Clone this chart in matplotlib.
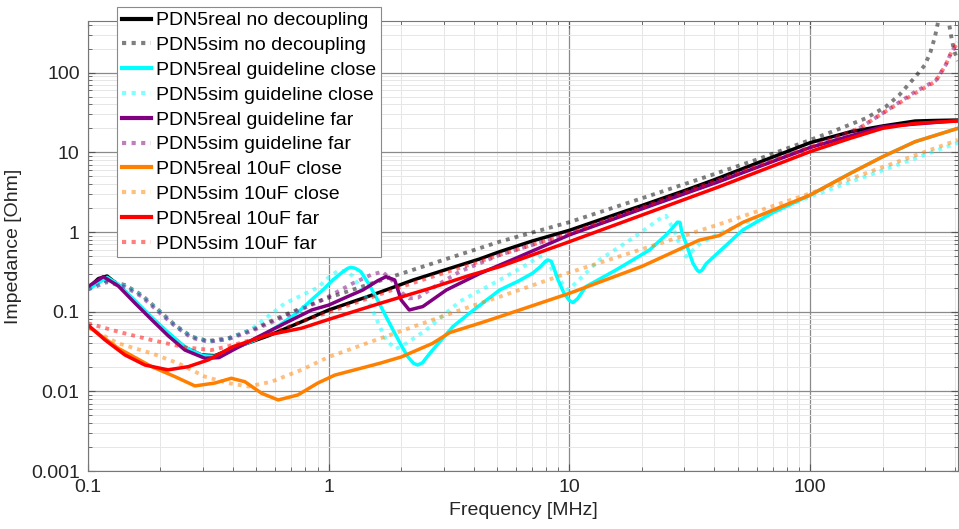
import numpy as np
import matplotlib.pyplot as plt
from matplotlib.ticker import FixedLocator, FixedFormatter, LogLocator, NullFormatter

# Frequency [MHz] / impedance [Ohm] read from the measured and simulated PDN5 sweeps

# real, no decoupling
f_real_nodec = [0.1, 0.1104, 0.12, 0.1336, 0.1567, 0.184, 0.215, 0.2526, 0.296, 0.336,
                0.4, 0.559, 0.75, 1.0, 1.5, 2.245, 3.0, 4.23, 5.13, 7.0, 10, 15, 20, 30,
                39.7, 60, 100, 147, 200, 273, 330, 411]
z_real_nodec = [0.197, 0.26, 0.28, 0.216, 0.134, 0.0826, 0.0536, 0.0357, 0.0286, 0.028,
                0.0347, 0.0496, 0.072, 0.105, 0.16, 0.25, 0.33, 0.458, 0.566, 0.77, 1.05,
                1.6, 2.15, 3.3, 4.49, 7.3, 13.2, 18.1, 21.4, 24.7, 25.1, 25.4]

# sim, no decoupling
f_sim_nodec = [0.1, 0.1104, 0.1214, 0.1424, 0.167, 0.196, 0.2297, 0.269, 0.316, 0.3817,
               0.477, 0.6568, 0.9, 1.0, 2.0, 5.13, 10, 20, 34.6, 60, 100, 123.2, 170.2,
               206.4, 234.6, 273, 300, 316, 330, 340, 357, 377, 386, 396, 411]
z_sim_nodec = [0.197, 0.238, 0.245, 0.216, 0.162, 0.105, 0.068, 0.0486, 0.0429, 0.0464,
               0.059, 0.091, 0.134, 0.15, 0.30, 0.756, 1.33, 2.65, 4.6, 8.1, 14.3, 18.1,
               26.7, 37.4, 52.4, 88, 125, 180, 280, 430, 1500, 430, 282, 192, 140]

# real, guideline close
f_real_gc = [0.1, 0.12, 0.1336, 0.1567, 0.184, 0.215, 0.2526, 0.3, 0.336, 0.4, 0.5, 0.626,
             0.75, 0.862, 0.95, 1.04, 1.15, 1.2, 1.24, 1.29, 1.36, 1.47, 1.57, 1.72, 1.85,
             2.0, 2.13, 2.25, 2.34, 2.45, 2.63, 3.28, 3.84, 5.13, 6.1, 7.02, 7.6, 7.9,
             8.14, 8.4, 8.6, 8.97, 9.5, 10.0, 10.35, 10.8, 11.7, 15.6, 21.5, 25.2, 27.0,
             28.1, 28.8, 29.3, 30.5, 32.6, 34.0, 34.6, 35.5, 37.0, 41.9, 52.5, 70, 100,
             147, 200, 273, 411]
z_real_gc = [0.19, 0.27, 0.22, 0.138, 0.085, 0.055, 0.036, 0.028, 0.0275, 0.034, 0.045,
             0.068, 0.1, 0.147, 0.19, 0.25, 0.32, 0.35, 0.36, 0.35, 0.318, 0.22, 0.154,
             0.09, 0.0589, 0.038, 0.0272, 0.0225, 0.0214, 0.0228, 0.030, 0.065, 0.0955,
             0.187, 0.24, 0.303, 0.37, 0.42, 0.445, 0.43, 0.36, 0.25, 0.17, 0.138, 0.13,
             0.145, 0.206, 0.333, 0.594, 0.917, 1.15, 1.33, 1.32, 1.0, 0.72, 0.405,
             0.33, 0.318, 0.33, 0.4, 0.566, 1.06, 1.75, 2.9, 5.45, 8.8, 13.6, 20]

# sim, guideline close
f_sim_gc = [0.1, 0.12, 0.1424, 0.167, 0.196, 0.2297, 0.269, 0.316, 0.38, 0.477, 0.657,
            0.9, 1.0, 1.1, 1.18, 1.26, 1.48, 1.63, 1.73, 1.9, 2.1, 2.54, 3.5, 5.13, 6.6,
            7.5, 7.78, 8.5, 9.56, 9.9, 11.3, 13.3, 18.3, 24.0, 25.2, 27.6, 29.4, 30.5,
            34.6, 41.9, 100, 200, 411]
z_sim_gc = [0.19, 0.24, 0.21, 0.16, 0.104, 0.067, 0.048, 0.042, 0.045, 0.06, 0.127, 0.2,
            0.27, 0.33, 0.32, 0.28, 0.127, 0.065, 0.044, 0.034, 0.04, 0.059, 0.134, 0.25,
            0.385, 0.49, 0.5, 0.333, 0.206, 0.187, 0.275, 0.445, 0.834, 1.5, 1.6, 0.96,
            0.566, 0.49, 0.7, 0.96, 2.77, 5.94, 13.2]

# real, guideline far
f_real_gf = [0.1, 0.1157, 0.1336, 0.1567, 0.184, 0.215, 0.2526, 0.306, 0.35, 0.4, 0.5,
             0.657, 0.85, 1.0, 1.2, 1.385, 1.6, 1.73, 1.88, 2.0, 2.16, 2.46, 3.08, 4.23,
             6.0, 10, 20, 41.9, 100, 200, 411]
z_real_gf = [0.206, 0.275, 0.21, 0.128, 0.079, 0.05, 0.033, 0.026, 0.0265, 0.033, 0.047,
             0.0715, 0.105, 0.121, 0.155, 0.187, 0.245, 0.275, 0.25, 0.14, 0.105, 0.116,
             0.187, 0.3, 0.47, 0.92, 1.95, 4.3, 11.5, 21, 25]

# sim, guideline far
f_sim_gf = [0.1, 0.12, 0.1424, 0.167, 0.196, 0.2297, 0.269, 0.316, 0.38, 0.477, 0.657,
            0.914, 1.26, 1.5, 1.67, 1.85, 2.0, 2.16, 2.35, 2.78, 3.5, 5.13, 10, 39.7, 100,
            160, 200, 273, 333, 366, 386, 411]
z_sim_gf = [0.19, 0.235, 0.205, 0.155, 0.1, 0.066, 0.047, 0.042, 0.045, 0.057, 0.087,
            0.134, 0.227, 0.29, 0.318, 0.24, 0.175, 0.147, 0.15, 0.21, 0.318, 0.515, 0.96,
            4.27, 11.6, 20, 30.9, 57.6, 80, 125, 180, 240]

# real, 10uF close
f_real_10c = [0.1, 0.1336, 0.184, 0.2297, 0.278, 0.336, 0.394, 0.4487, 0.526, 0.6168,
              0.744, 0.9, 1.06, 1.63, 2.0, 2.7, 3.18, 4.23, 5.13, 10, 20, 34.6, 41.9, 52.5,
              70, 100, 147, 200, 273, 411]
z_real_10c = [0.0655, 0.0347, 0.0204, 0.0153, 0.0117, 0.0127, 0.0146, 0.0132, 0.00946,
              0.0078, 0.009, 0.0127, 0.016, 0.0225, 0.027, 0.040, 0.0546, 0.0715, 0.0865,
              0.17, 0.37, 0.79, 0.9, 1.32, 1.88, 2.91, 5.45, 8.8, 13.6, 20]

# sim, 10uF close
f_sim_10c = [0.1, 0.1336, 0.184, 0.237, 0.306, 0.382, 0.4634, 0.578, 0.77, 1.0, 1.63,
             3.84, 5.13, 10, 41.9, 100, 170, 411]
z_sim_10c = [0.063, 0.040, 0.030, 0.0225, 0.0153, 0.0127, 0.0115, 0.0132, 0.0186, 0.027,
             0.046, 0.115, 0.154, 0.31, 1.25, 3.06, 5.45, 14.3]

# real, 10uF far
f_real_10f = [0.1, 0.1176, 0.1424, 0.1723, 0.215, 0.2606, 0.316, 0.4, 0.559, 0.77, 1.0,
              1.63, 2.63, 3.84, 5.13, 10, 20, 41.9, 100, 147, 200, 273, 411]
z_real_10f = [0.068, 0.0442, 0.0286, 0.0214, 0.0186, 0.0204, 0.0248, 0.0364, 0.051, 0.062,
              0.08, 0.127, 0.196, 0.285, 0.367, 0.756, 1.63, 3.7, 10.2, 15, 20, 23.1, 24.7]

# sim, 10uF far
f_sim_10f = [0.1, 0.1336, 0.184, 0.2526, 0.326, 0.4, 0.559, 0.77, 1.06, 2.0, 5.13, 10,
             39.7, 100, 160, 200, 273, 333, 366, 386, 411]
z_sim_10f = [0.0715, 0.056, 0.044, 0.0357, 0.033, 0.038, 0.051, 0.075, 0.105, 0.205,
             0.515, 0.96, 4.27, 11.6, 20, 30.9, 55, 78, 125, 180, 240]

series = [
    ('PDN5real no decoupling', f_real_nodec, z_real_nodec, '#000000', '-'),
    ('PDN5sim no decoupling', f_sim_nodec, z_sim_nodec, '#000000', ':'),
    ('PDN5real guideline close', f_real_gc, z_real_gc, '#00ffff', '-'),
    ('PDN5sim guideline close', f_sim_gc, z_sim_gc, '#00ffff', ':'),
    ('PDN5real guideline far', f_real_gf, z_real_gf, '#800080', '-'),
    ('PDN5sim guideline far', f_sim_gf, z_sim_gf, '#800080', ':'),
    ('PDN5real 10uF close', f_real_10c, z_real_10c, '#ff8000', '-'),
    ('PDN5sim 10uF close', f_sim_10c, z_sim_10c, '#ff8000', ':'),
    ('PDN5real 10uF far', f_real_10f, z_real_10f, '#ff0000', '-'),
    ('PDN5sim 10uF far', f_sim_10f, z_sim_10f, '#ff0000', ':'),
]

plt.rcParams['font.family'] = ['Liberation Sans', 'DejaVu Sans']
txt = '#262626'

fig = plt.figure(figsize=(9.59, 5.29), dpi=100)
ax = fig.add_axes([0.0918, 0.1096, 0.907, 0.851])

for name, f, z, c, ls in series:
    if ls == '-':
        ax.plot(f, z, color=c, lw=2.5, label=name, solid_joinstyle='round')
    else:
        ax.plot(f, z, color=c, lw=2.8, alpha=0.5, linestyle=(0, (1, 1.3)),
                dash_capstyle='butt', label=name)

ax.set_xscale('log')
ax.set_yscale('log')
ax.set_xlim(0.1, 411)
ax.set_ylim(0.001, 447)

xt = [0.1, 1, 10, 100]
yt = [0.001, 0.01, 0.1, 1, 10, 100]
ax.xaxis.set_major_locator(FixedLocator(xt))
ax.xaxis.set_major_formatter(FixedFormatter(['0.1', '1', '10', '100']))
ax.yaxis.set_major_locator(FixedLocator(yt))
ax.yaxis.set_major_formatter(FixedFormatter(['0.001', '0.01', '0.1', '1', '10', '100']))
ax.xaxis.set_minor_locator(LogLocator(base=10, subs=np.arange(2, 10)))
ax.yaxis.set_minor_locator(LogLocator(base=10, subs=np.arange(2, 10)))
ax.xaxis.set_minor_formatter(NullFormatter())
ax.yaxis.set_minor_formatter(NullFormatter())

ax.grid(which='minor', color='#e6e6e6', lw=0.7)
ax.grid(which='major', color='#8a8a8a', lw=0.9)
ax.set_axisbelow(True)
ax.tick_params(which='both', direction='in', colors='#555555', labelcolor=txt,
               labelsize=14, top=True, right=True)
ax.tick_params(which='major', length=5, pad=6)
ax.tick_params(which='minor', length=3)
for s in ax.spines.values():
    s.set_color('#777777')
    s.set_linewidth(0.8)

ax.set_xlabel('Frequency [MHz]', fontsize=14, color=txt, labelpad=4)
ax.set_ylabel('Impedance [Ohm]', fontsize=14, color=txt, labelpad=6)

leg = ax.legend(loc='upper left', bbox_to_anchor=(0.122, 0.987),
                bbox_transform=fig.transFigure, fontsize=14, frameon=True,
                fancybox=False, framealpha=1, edgecolor='#8a8a8a',
                handlelength=1.5, handletextpad=0.25, labelspacing=0.37,
                borderpad=0.25, borderaxespad=0)
leg.get_frame().set_linewidth(0.8)
for line in leg.get_lines():
    line.set_linewidth(3.0)

plt.savefig('out.png', dpi=100)
